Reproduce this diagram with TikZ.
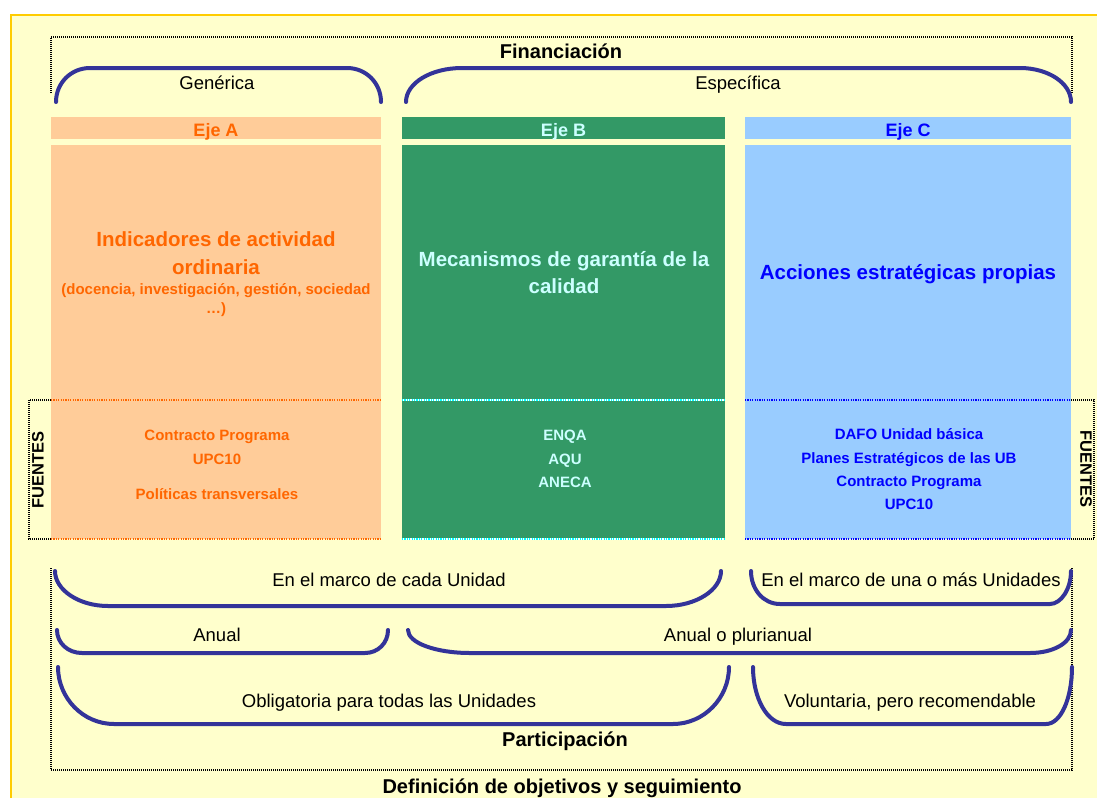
\documentclass[tikz,border=0pt]{standalone}
\usepackage{fontspec}
\setmainfont{Liberation Sans}
\definecolor{panel}{HTML}{FFFFCC}
\definecolor{panelrim}{HTML}{FFCC00}
\definecolor{bracecol}{HTML}{333399}
\definecolor{ejeafill}{HTML}{FFCC99}
\definecolor{ejeatext}{HTML}{FF6600}
\definecolor{ejebfill}{HTML}{339966}
\definecolor{ejebtext}{HTML}{CCFFFF}
\definecolor{ejebdots}{HTML}{00FFFF}
\definecolor{ejecfill}{HTML}{99CCFF}
\definecolor{ejectext}{HTML}{0000FF}
\tikzstyle{brace}=[draw=bracecol, line width=4pt, line cap=round]
\tikzstyle{dotframe}=[draw=black, line width=2pt, dash pattern=on 1pt off 1pt]
\tikzstyle{dotline}=[line width=2.4pt, dash pattern=on 1.2pt off 1.2pt]
\tikzstyle{header}=[minimum height=22pt, inner sep=0, text height=16.5pt, text depth=0pt, font={\bfseries\fontsize{18}{20}\selectfont}]
\tikzstyle{colbox}=[minimum height=394pt, inner sep=0]
\tikzstyle{heading}=[font={\bfseries\fontsize{20}{24}\selectfont}, text height=1.4ex, text depth=0pt]
\tikzstyle{bracetext}=[font={\fontsize{18.5}{22}\selectfont}, text height=1.4ex, text depth=0pt]
\tikzstyle{bigtext}=[align=center, inner sep=0, font={\bfseries\fontsize{20.5}{27.5}\selectfont}]
\tikzstyle{notetext}=[align=center, inner sep=0, font={\bfseries\fontsize{15}{19}\selectfont}]
\tikzstyle{sources}=[align=center, inner sep=0, font={\bfseries\fontsize{15}{23.3}\selectfont}]
\tikzstyle{fuente}=[font={\bfseries\fontsize{16.5}{18}\selectfont}, text height=1.4ex, text depth=0pt]

\begin{document}
\begin{tikzpicture}[x=1pt, y=-1pt]
  \useasboundingbox (0,0) rectangle (1097,798);
  \fill[panel] (10,14) rectangle (1097,798);
  \draw[panelrim, line width=2.5pt] (11,798) -- (11,15) -- (1097,15);

  \draw[dotframe] (51,93) -- (51,37) -- (1072,37) -- (1072,93);
  \node[heading] (financiacion) at (561,55) {Financiación};
  \draw[brace] (56,102) .. controls (56,83) and (71,68) .. (90,68) -- (347,68) .. controls (366,68) and (381,83) .. (381,102);
  \draw[brace] (406,102) .. controls (406,83) and (431,68) .. (462,68) -- (1020,68) .. controls (1048,68) and (1071,83) .. (1071,102);
  \node[bracetext] (generica) at (217,85.5) {Genérica};
  \node[bracetext] (especifica) at (738,85.5) {Específica};

  \node[header, fill=ejeafill, text=ejeatext, minimum width=330pt] (eje_a) at (216,128) {Eje A};
  \node[header, fill=ejebfill, text=ejebtext, minimum width=323pt] (eje_b) at (563.5,128) {Eje B};
  \node[header, fill=ejecfill, text=ejectext, minimum width=326pt] (eje_c) at (908,128) {Eje C};
  \node[colbox, fill=ejeafill, minimum width=330pt] (col_a) at (216,342) {};
  \node[colbox, fill=ejebfill, minimum width=323pt] (col_b) at (563.5,342) {};
  \node[colbox, fill=ejecfill, minimum width=326pt] (col_c) at (908,342) {};

  \draw[dotline, ejeatext] (51,400) -- (381,400) (51,539) -- (381,539);
  \draw[line width=2.4pt, white] (402,400) -- (725,400) (402,539) -- (725,539);
  \draw[dotline, ejebdots] (402,400) -- (725,400) (402,539) -- (725,539);
  \draw[dotline, ejectext] (745,400) -- (1071,400) (745,539) -- (1071,539);
  \draw[dotframe] (51,400) -- (29,400) -- (29,539) -- (51,539);
  \draw[dotframe] (1071,400) -- (1094,400) -- (1094,539) -- (1071,539);
  \node[fuente, rotate=90] (fuentes_left) at (40,470) {FUENTES};
  \node[fuente, rotate=-90] (fuentes_right) at (1084,469) {FUENTES};

  \node[bigtext, text=ejeatext] (a_main) at (216,253) {Indicadores de actividad\\ordinaria};
  \node[notetext, text=ejeatext] (a_note) at (216,300) {(docencia, investigación, gestión, sociedad\\…)};
  \node[bigtext, text=ejebtext] (b_main) at (564,272.5) {Mecanismos de garantía de la\\calidad};
  \node[bigtext, text=ejectext] (c_main) at (908,274) {Acciones estratégicas propias};

  \node[sources, text=ejeatext] (a_src) at (217,465) {Contracto Programa\\UPC10\\[12pt]Políticas transversales};
  \node[sources, text=ejebtext] (b_src) at (565,459) {ENQA\\AQU\\ANECA};
  \node[sources, text=ejectext] (c_src) at (909,469.5) {DAFO Unidad básica\\Planes Estratégicos de las UB\\Contracto Programa\\UPC10};

  \draw[dotframe] (51,568) -- (51,770) -- (1072,770) -- (1072,568);
  \draw[brace] (55,571) .. controls (55,590) and (79,606) .. (108,606) -- (666,606) .. controls (696,606) and (721,590) .. (721,571);
  \draw[brace] (751,571) .. controls (751,589) and (763,604) .. (780,604) -- (1050,604) .. controls (1061,604) and (1071,589) .. (1071,571);
  \draw[brace] (57,630) .. controls (57,643) and (68,653) .. (82,653) -- (365,653) .. controls (378,653) and (388,643) .. (388,630);
  \draw[brace] (408,630) .. controls (408,643) and (436,653) .. (470,653) -- (1030,653) .. controls (1053,653) and (1071,643) .. (1071,630);
  \draw[brace] (58,667) .. controls (58,698) and (83,724) .. (114,724) -- (673,724) .. controls (704,724) and (729,698) .. (729,667);
  \draw[brace] (753,667) .. controls (753,698) and (767,724) .. (786,724) -- (1046,724) .. controls (1061,724) and (1072,698) .. (1072,667);
  \node[bracetext] (cada_unidad) at (389,582.5) {En el marco de cada Unidad};
  \node[bracetext] (mas_unidades) at (911,583) {En el marco de una o más Unidades};
  \node[bracetext] (anual) at (217,637.5) {Anual};
  \node[bracetext] (plurianual) at (738,637.5) {Anual o plurianual};
  \node[bracetext] (obligatoria) at (389,703.5) {Obligatoria para todas las Unidades};
  \node[bracetext] (voluntaria) at (910,703.5) {Voluntaria, pero recomendable};
  \node[heading] (participacion) at (565,742.5) {Participación};
  \node[heading] (definicion) at (562,790) {Definición de objetivos y seguimiento};
\end{tikzpicture}
\end{document}
